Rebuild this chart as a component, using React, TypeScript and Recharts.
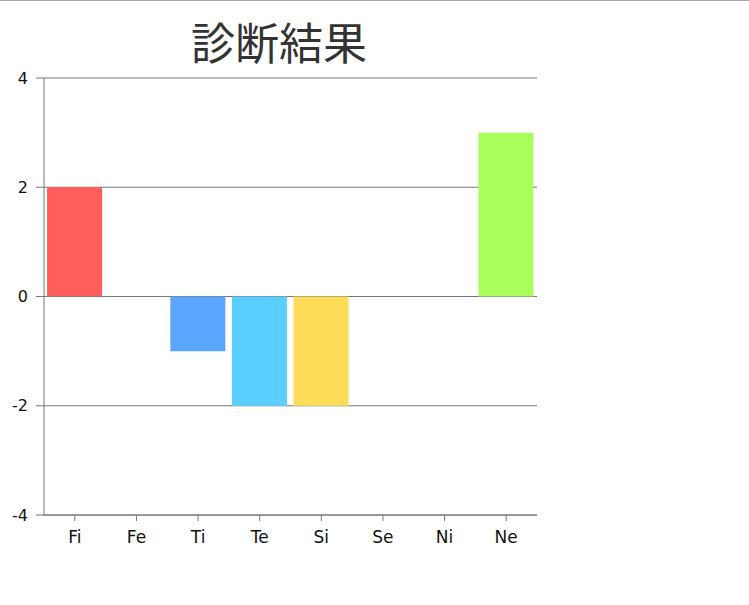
import { BarChart, Bar, Cell, XAxis, YAxis, CartesianGrid } from 'recharts'

const categories = ['Fi', 'Fe', 'Ti', 'Te', 'Si', 'Se', 'Ni', 'Ne']
const scores = [2, 0, -1, -2, -2, 0, 0, 3]
const barColors = ['#ff5e5a', '#ff5e5a', '#5aa5ff', '#5acfff', '#ffdb5a', '#ffdb5a', '#a8ff5a', '#a8ff5a']
const yTicks = [-4, -2, 0, 2, 4]
const title = '診断結果'

const data = categories.map((name, i) => ({ name, value: scores[i] }))

export default function App() {
  return (
    <div style={{ position: 'absolute', left: 0, top: 0, width: 749, height: 605, background: '#fff' }}>
      <div style={{ position: 'absolute', left: 0, top: 0, width: 749, height: 1, background: '#aaa' }} />
      <div
        style={{
          position: 'absolute',
          left: 0,
          top: 12,
          width: 558,
          textAlign: 'center',
          fontFamily: '"Noto Sans CJK JP", sans-serif',
          fontSize: 44,
          lineHeight: '58px',
          color: '#333',
        }}
      >
        {title}
      </div>
      <BarChart
        width={560}
        height={560}
        data={data}
        margin={{ top: 78, right: 23, left: 0, bottom: 15 }}
        barCategoryGap="5%"
        style={{ fontFamily: '"DejaVu Sans", sans-serif' }}
      >
        <CartesianGrid vertical={false} stroke="#777" />
        <XAxis
          dataKey="name"
          stroke="#777"
          tickSize={6}
          tickMargin={10}
          tick={{ fill: '#111', fontSize: 17 }}
        />
        <YAxis
          width={44}
          domain={[-4, 4]}
          ticks={yTicks}
          stroke="#777"
          tickSize={8}
          tickMargin={8}
          tick={{ fill: '#111', fontSize: 16 }}
        />
        <Bar dataKey="value" isAnimationActive={false}>
          {data.map((d, i) => (
            <Cell key={d.name} fill={barColors[i]} />
          ))}
        </Bar>
      </BarChart>
    </div>
  )
}
